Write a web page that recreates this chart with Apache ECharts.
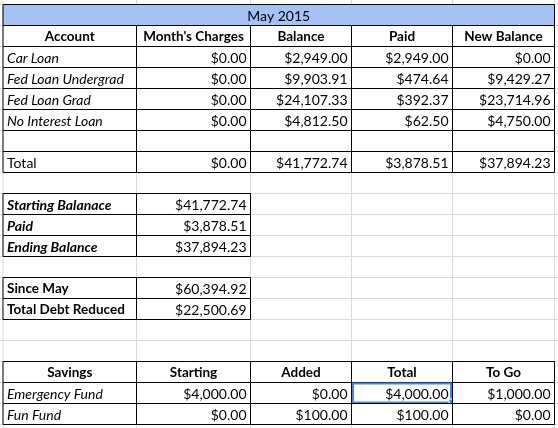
<!DOCTYPE html>
<html>
<head>
<meta charset="utf-8">
<script src="https://cdn.jsdelivr.net/npm/echarts@6/dist/echarts.min.js"></script>
<style>
  html, body { margin: 0; padding: 0; background: #fff; }
  #sheet { width: 558px; height: 428px; }
</style>
</head>
<body>
<div id="sheet"></div>
<script>
// sheet values
const title = 'May 2015';
const loanHeaders = ['Account', "Month's Charges", 'Balance', 'Paid', 'New Balance'];
const accounts = ['Car Loan', 'Fed Loan Undergrad', 'Fed Loan Grad', 'No Interest Loan'];
const monthCharges = [0, 0, 0, 0];
const balance = [2949.00, 9903.91, 24107.33, 4812.50];
const paid = [2949.00, 474.64, 392.37, 62.50];
const newBalance = [0.00, 9429.27, 23714.96, 4750.00];
const totalLabel = 'Total';
const totals = [0.00, 41772.74, 3878.51, 37894.23];
const summaryLabels = ['Starting Balanace', 'Paid', 'Ending Balance'];
const summaryValues = [41772.74, 3878.51, 37894.23];
const debtLabels = ['Since May', 'Total Debt Reduced'];
const debtValues = [60394.92, 22500.69];
const savingsHeaders = ['Savings', 'Starting', 'Added', 'Total', 'To Go'];
const funds = ['Emergency Fund', 'Fun Fund'];
const fundStarting = [4000.00, 0.00];
const fundAdded = [0.00, 100.00];
const fundTotal = [4000.00, 100.00];
const fundToGo = [1000.00, 0.00];

// sheet layout: column edges in x-axis units, rows of 21px on the y axis
const colEdges = [3, 136.5, 250.5, 351.5, 452.5, 554.5];
const ROW_H = 21;
const TOP = 4.5;
const FONT = "Lato, sans-serif";
const TITLE_BG = '#a4c2f4';

const money = v => '$' + v.toLocaleString('en-US', { minimumFractionDigits: 2, maximumFractionDigits: 2 });

const cells = [];
function cell(col, row, text, kind, extra) {
  cells.push(Object.assign({ col: col, row: row, span: 1, text: text, kind: kind }, extra || {}));
}

cell(0, 0, title, 'title', { span: 5 });
loanHeaders.forEach((h, c) => cell(c, 1, h, 'head'));
accounts.forEach((a, i) => {
  const r = 2 + i;
  cell(0, r, a, 'italic');
  [monthCharges[i], balance[i], paid[i], newBalance[i]].forEach((v, j) => cell(j + 1, r, money(v), 'num'));
});
for (let c = 0; c < 5; c++) cell(c, 6, '', 'text');
cell(0, 7, totalLabel, 'text');
totals.forEach((v, j) => cell(j + 1, 7, money(v), 'num'));
summaryLabels.forEach((l, i) => {
  cell(0, 9 + i, l, 'boldItalic');
  cell(1, 9 + i, money(summaryValues[i]), 'num');
});
debtLabels.forEach((l, i) => {
  cell(0, 13 + i, l, 'bold');
  cell(1, 13 + i, money(debtValues[i]), 'num');
});
savingsHeaders.forEach((h, c) => cell(c, 17, h, 'head'));
funds.forEach((f, i) => {
  const r = 18 + i;
  cell(0, r, f, 'italic');
  [fundStarting[i], fundAdded[i], fundTotal[i], fundToGo[i]].forEach((v, j) =>
    cell(j + 1, r, money(v), 'num', (r === 18 && j === 2) ? { selected: true } : null));
});

const fonts = {
  title: 'normal 14px ' + FONT,
  head: 'bold 13.5px ' + FONT,
  text: 'normal 14px ' + FONT,
  italic: 'italic 14px ' + FONT,
  boldItalic: 'italic bold 14px ' + FONT,
  bold: 'bold 13.5px ' + FONT,
  num: 'normal 14px ' + FONT
};

function renderCell(params, api) {
  const d = cells[params.dataIndex];
  const p0 = api.coord([colEdges[d.col], d.row]);
  const p1 = api.coord([colEdges[d.col + d.span], d.row + 1]);
  const x0 = p0[0], y0 = p0[1], x1 = p1[0], y1 = p1[1];
  const w = x1 - x0, h = y1 - y0;
  const kids = [];
  kids.push({
    type: 'rect',
    shape: { x: x0, y: y0, width: w, height: h },
    style: { fill: d.kind === 'title' ? TITLE_BG : '#ffffff', stroke: '#000', lineWidth: 1 }
  });
  let tx = x0 + 4, align = 'left';
  if (d.kind === 'num') { tx = x1 - 4; align = 'right'; }
  if (d.kind === 'head' || d.kind === 'title') { tx = (x0 + x1) / 2; align = 'center'; }
  kids.push({
    type: 'text',
    x: tx,
    y: (y0 + y1) / 2 + 1,
    style: {
      text: d.text,
      font: fonts[d.kind],
      fill: '#000',
      textAlign: align,
      textVerticalAlign: 'middle'
    }
  });
  if (d.selected) {
    kids.push({
      type: 'rect',
      shape: { x: x0 + 1.5, y: y0 + 1, width: w - 3, height: h - 2 },
      style: { fill: 'none', stroke: '#4a86e8', lineWidth: 2 }
    });
    kids.push({
      type: 'rect',
      shape: { x: x1 - 3.5, y: y1 - 4.5, width: 5, height: 5 },
      style: { fill: '#4a86e8', stroke: '#fff', lineWidth: 1 }
    });
  }
  return { type: 'group', children: kids };
}

// light sheet gridlines: vertical at column edges, horizontal at row edges
const gridLines = [];
colEdges.forEach(e => gridLines.push({ v: true, at: e }));
for (let r = -1; r <= 21; r++) gridLines.push({ v: false, at: r });

function renderGridLine(params, api) {
  const g = gridLines[params.dataIndex];
  const a = g.v ? api.coord([g.at, -1]) : api.coord([0, g.at]);
  const b = g.v ? api.coord([g.at, 21]) : api.coord([558, g.at]);
  return {
    type: 'line',
    shape: { x1: a[0], y1: a[1], x2: b[0], y2: b[1] },
    style: { stroke: '#dadada', lineWidth: 1 }
  };
}

const chart = echarts.init(document.getElementById('sheet'), null, { renderer: 'canvas' });
chart.setOption({
  animation: false,
  grid: { left: 0, right: 0, top: 0, bottom: 0 },
  xAxis: { type: 'value', min: 0, max: 558, show: false },
  yAxis: {
    type: 'value', inverse: true,
    min: -TOP / ROW_H, max: (428 - TOP) / ROW_H,
    show: false
  },
  series: [
    {
      type: 'custom',
      renderItem: renderGridLine,
      data: gridLines.map((g, i) => [g.at, i]),
      clip: false,
      silent: true
    },
    {
      type: 'custom',
      renderItem: renderCell,
      data: cells.map(d => [colEdges[d.col], d.row]),
      clip: false,
      silent: true
    }
  ]
});
</script>
</body>
</html>
